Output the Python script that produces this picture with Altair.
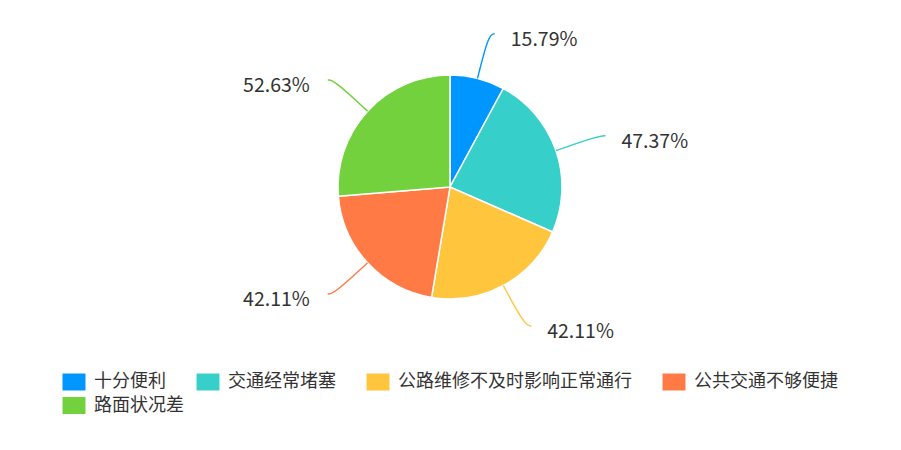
import altair as alt
import pandas as pd

categories = ["十分便利", "交通经常堵塞", "公路维修不及时影响正常通行", "公共交通不够便捷", "路面状况差"]
values = [15.79, 47.37, 42.11, 42.11, 52.63]
labels = ["15.79%", "47.37%", "42.11%", "42.11%", "52.63%"]
colors = ["#0096ff", "#36cfc9", "#ffc53d", "#ff7a45", "#73d13d"]

df = pd.DataFrame({"category": categories, "value": values, "label": labels,
                   "idx": list(range(len(categories)))})

W, H = 884, 358
R = 112
R_ELBOW = 158
LEN2 = 6
FONT = "Noto Sans CJK SC"

xs = alt.Scale(domain=[-W / 2, W / 2], nice=False, zero=False)
ys = alt.Scale(domain=[-H / 2, H / 2], nice=False, zero=False)
cat_scale = alt.Scale(domain=categories, range=colors)
# same mapping, listed in reverse so the second legend row stays a separate legend
cat_scale_rev = alt.Scale(domain=categories[::-1], range=colors[::-1])

legend_common = dict(
    title=None, orient="none", direction="horizontal",
    symbolType="M-1.35,-1H1.35V1H-1.35Z",
    symbolSize=289, symbolStrokeWidth=0, symbolOpacity=1,
    labelFont=FONT, labelFontSize=18, labelColor="#333333", labelOffset=11,
    columnPadding=30, padding=0, labelLimit=0,
)
legend_row1 = alt.Legend(values=categories[:4], legendX=57, legendY=365, **legend_common)
legend_row2 = alt.Legend(values=categories[4:], legendX=57, legendY=388.5, **legend_common)

base = alt.Chart(df)

pie_a = base.mark_arc(outerRadius=R, stroke="white", strokeWidth=1.5).encode(
    theta=alt.Theta("value:Q", stack=True),
    fill=alt.Fill("category:N", scale=cat_scale, legend=legend_row1),
    order=alt.Order("idx:Q"),
)
pie_b = base.mark_arc(outerRadius=R, stroke="white", strokeWidth=1.5).encode(
    theta=alt.Theta("value:Q", stack=True),
    color=alt.Color("category:N", scale=cat_scale_rev, legend=legend_row2),
    order=alt.Order("idx:Q"),
)

geo = base.transform_joinaggregate(total="sum(value)").transform_window(
    cum="sum(value)", sort=[alt.SortField("idx")], frame=[None, 0]
).transform_calculate(
    mid="(datum.cum - datum.value / 2) / datum.total * 2 * PI"
).transform_calculate(
    side="sin(datum.mid) >= 0 ? 1 : -1"
)

lines = geo.transform_calculate(step="[0, 1, 2]").transform_flatten(["step"]).transform_calculate(
    r=f"datum.step == 0 ? {R} : {R_ELBOW}"
).transform_calculate(
    lx=f"datum.r * sin(datum.mid) + (datum.step == 2 ? datum.side * {LEN2} : 0)",
    ly="datum.r * cos(datum.mid)",
).mark_line(interpolate="basis", strokeWidth=1.4).encode(
    x=alt.X("lx:Q", scale=xs, axis=None),
    y=alt.Y("ly:Q", scale=ys, axis=None),
    stroke=alt.Stroke("category:N", scale=cat_scale, legend=None),
    detail="category:N",
    order=alt.Order("step:Q"),
)

texts = geo.transform_calculate(
    tx=f"{R_ELBOW} * sin(datum.mid) + datum.side * ({LEN2} + (datum.side > 0 ? 16 : 18))",
    ty=f"{R_ELBOW} * cos(datum.mid) - 6",
)

text_r = texts.transform_filter("datum.side > 0").mark_text(
    align="left", baseline="middle", font=FONT, fontSize=19.5, color="#333333"
).encode(x=alt.X("tx:Q", scale=xs, axis=None), y=alt.Y("ty:Q", scale=ys, axis=None), text="label:N")

text_l = texts.transform_filter("datum.side < 0").mark_text(
    align="right", baseline="middle", font=FONT, fontSize=19.5, color="#333333"
).encode(x=alt.X("tx:Q", scale=xs, axis=None), y=alt.Y("ty:Q", scale=ys, axis=None), text="label:N")

chart = alt.layer(pie_a, pie_b, lines, text_r, text_l).properties(
    width=W, height=H, padding=0
).resolve_scale(color="independent", fill="independent").configure_view(stroke=None)

chart.save("out.html", embed_options={"renderer": "svg", "actions": False})
